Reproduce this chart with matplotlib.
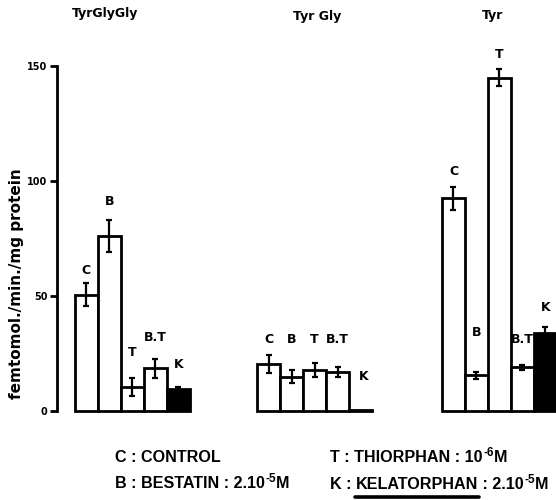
import matplotlib
matplotlib.use("Agg")
import matplotlib.pyplot as plt
from matplotlib.lines import Line2D

# Substrate groups and treatments
groups = ["TyrGlyGly", "Tyr Gly", "Tyr"]
treatments = ["C", "B", "T", "B.T", "K"]
bar_labels = ["C", "B", "T", "B.T", "K"]

# femtomol/min/mg protein, one list per substrate (order: C, B, T, B.T, K)
values_tyrglygly = [50.5, 76, 10.5, 18.5, 9.5]
values_tyrgly = [20.5, 15, 18, 17, 0.5]
values_tyr = [92.5, 15.5, 145, 19, 34]

errors_tyrglygly = [5, 7, 4, 4, 1]
errors_tyrgly = [4, 3, 3, 2, 0]
errors_tyr = [5, 1.5, 3.5, 1, 2.5]

yticks = [0, 50, 100, 150]
ylabel = "femtomol./min./mg protein"

all_values = [values_tyrglygly, values_tyrgly, values_tyr]
all_errors = [errors_tyrglygly, errors_tyrgly, errors_tyr]

# layout
group_start = [0.78, 8.7, 16.74]
label_heights = [
    [61, 91, 25.6, 32, 20],
    [31, 31, 31, 31, 15],
    [104, 34, 155, 31, 45],
]
title_x = [2.1, 11.3, 18.95]
title_y = [173, 171.5, 172]

fig = plt.figure(figsize=(5.56, 5.0), dpi=100)
ax = fig.add_axes([57 / 556, 89 / 500, 499 / 556, 345 / 500])
ax.set_xlim(0, 21.7)
ax.set_ylim(0, 150)

for g in range(3):
    for i in range(5):
        x = group_start[g] + i + 0.5
        v = all_values[g][i]
        e = all_errors[g][i]
        black = treatments[i] == "K"
        ax.bar(x, v, width=1.0, color="black" if black else "white",
               edgecolor="black", linewidth=2.0, clip_on=False, zorder=2)
        if e > 0:
            ax.errorbar(x, v, yerr=e, fmt="none", ecolor="black",
                        elinewidth=1.6, capsize=2.2, capthick=1.6, zorder=3)
        ax.text(x + (0.15 if (g == 1 and i == 4) else 0), label_heights[g][i],
                bar_labels[i], ha="center", va="center", fontsize=9,
                fontweight="bold", clip_on=False)
    ax.text(title_x[g], title_y[g], groups[g], ha="center", va="center",
            fontsize=9, fontweight="bold", clip_on=False)

for s in ["top", "right", "bottom"]:
    ax.spines[s].set_visible(False)
ax.spines["left"].set_linewidth(2.0)
ax.set_yticks(yticks)
ax.set_yticklabels([str(t) for t in yticks], fontsize=7, fontweight="bold")
ax.tick_params(axis="y", direction="out", length=5, width=2, pad=2)
ax.set_xticks([])
ax.set_ylabel(ylabel, fontsize=11, fontweight="bold")
ax.yaxis.set_label_coords(-0.066, 0.37)

# Key to the treatments
key_font = dict(fontsize=11.6, fontweight="bold", family="Liberation Sans")
sup_font = dict(fontsize=8.5, fontweight="bold", family="Liberation Sans")


def key_line(x, y, pieces):
    """pieces: list of (text, is_superscript); returns the text artists."""
    arts = []
    first = fig.text(x / 556, 1 - y / 500, pieces[0][0], ha="left",
                     va="baseline", **key_font)
    arts.append(first)
    prev = first
    for txt, sup in pieces[1:]:
        if sup:
            a = plt.annotate(txt, xy=(1, 1), xycoords=prev, xytext=(0.5, -2),
                             textcoords="offset points", ha="left",
                             va="center", annotation_clip=False, **sup_font)
        else:
            a = plt.annotate(txt, xy=(1, 0), xycoords=(prev, first),
                             xytext=(0, 0), textcoords="offset points",
                             ha="left", va="bottom", annotation_clip=False,
                             **key_font)
        arts.append(a)
        prev = a
    return arts


key_line(115, 462, [("C : CONTROL", False)])
key_line(115, 488, [("B : BESTATIN : 2.10", False), ("-5", True), ("M", False)])
key_line(330, 462, [("T : THIORPHAN : 10", False), ("-6", True), ("M", False)])
k_parts = key_line(330, 489, [("K : ", False), ("KELATORPHAN", False),
                              (" : 2.10", False), ("-5", True), ("M", False)])

fig.canvas.draw()
bb = k_parts[1].get_window_extent()
fig.add_artist(Line2D([(bb.x0 - 1) / 556, (bb.x1 + 1) / 556],
                      [1 - 497 / 500, 1 - 497 / 500],
                      color="black", linewidth=2.6, solid_capstyle="round"))

fig.savefig("out.png", dpi=100)
